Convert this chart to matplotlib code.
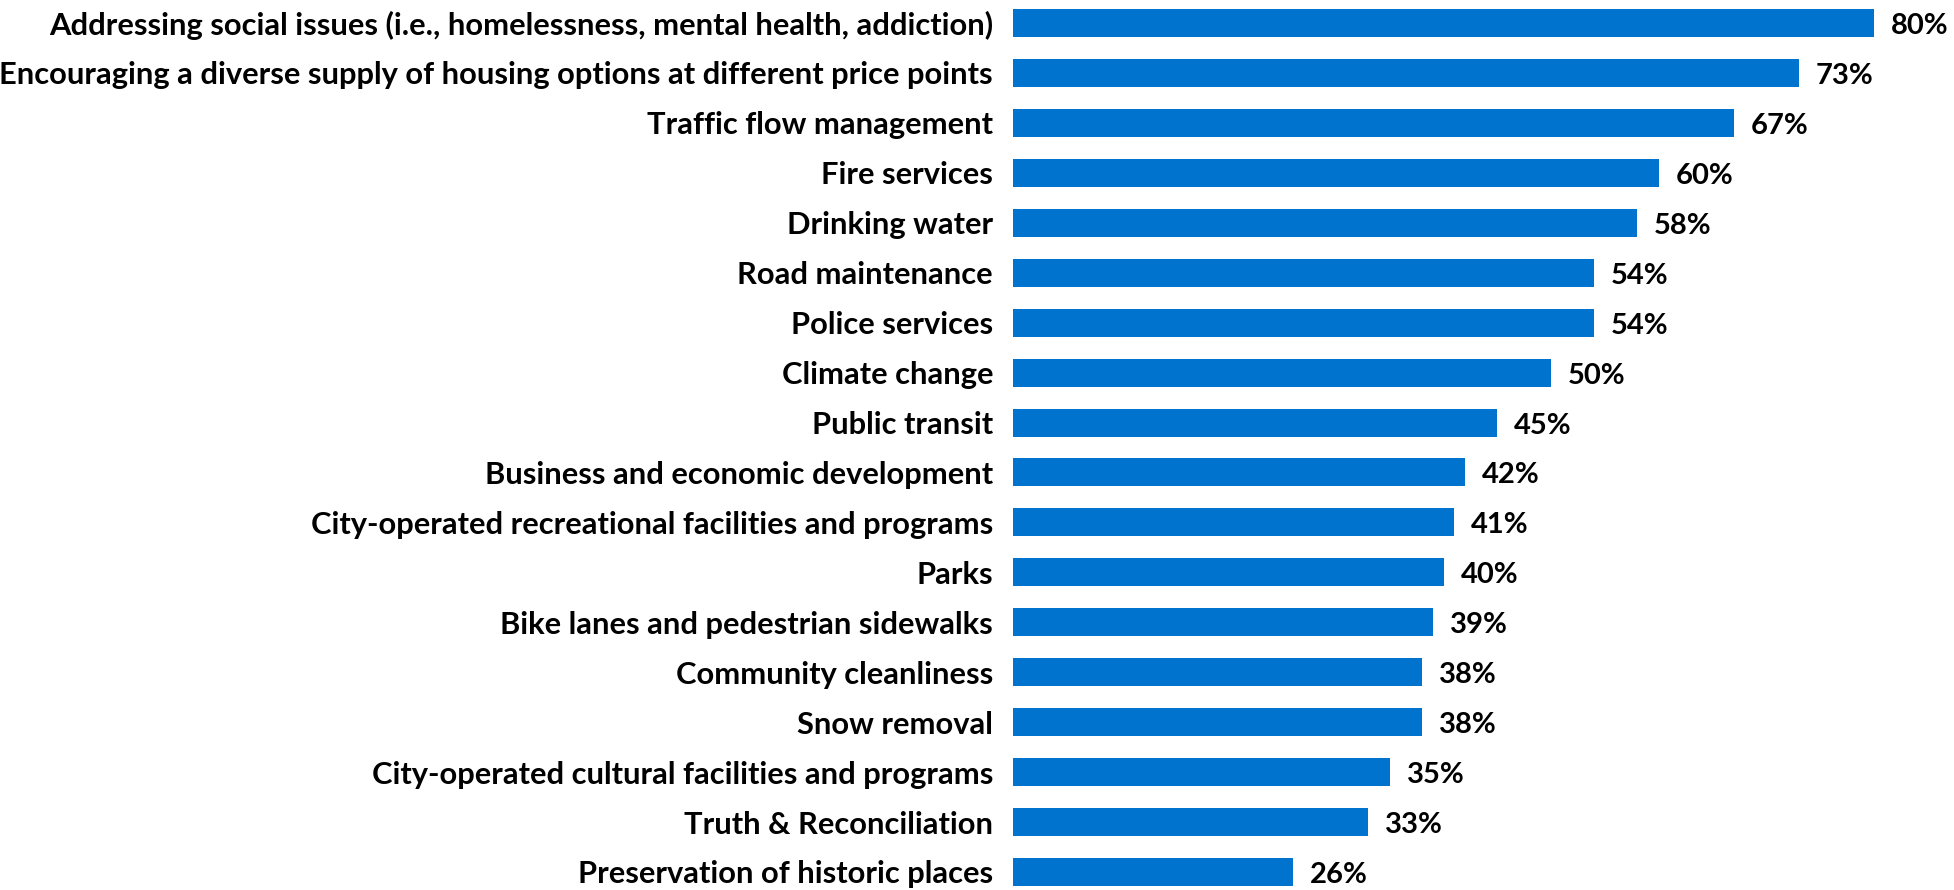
import matplotlib
matplotlib.use("Agg")
import matplotlib.pyplot as plt

categories = [
    "Addressing social issues (i.e., homelessness, mental health, addiction)",
    "Encouraging a diverse supply of housing options at different price points",
    "Traffic flow management",
    "Fire services",
    "Drinking water",
    "Road maintenance",
    "Police services",
    "Climate change",
    "Public transit",
    "Business and economic development",
    "City-operated recreational facilities and programs",
    "Parks",
    "Bike lanes and pedestrian sidewalks",
    "Community cleanliness",
    "Snow removal",
    "City-operated cultural facilities and programs",
    "Truth & Reconciliation",
    "Preservation of historic places",
]
values = [80, 73, 67, 60, 58, 54, 54, 50, 45, 42, 41, 40, 39, 38, 38, 35, 33, 26]

W, H = 1954, 890
fig = plt.figure(figsize=(W / 100, H / 100), dpi=100)

# axes placed in pixels: bar left at 1013, 80% ends at 1874, pitch ~50 px
pitch = 49.94
top_px = 23 - pitch / 2
bottom_px = top_px + pitch * len(categories)
ax = fig.add_axes([1013 / W, (H - bottom_px) / H, (1874 - 1013) / W, (bottom_px - top_px) / H])

ypos = list(range(len(categories)))
ax.barh(ypos, values, height=0.56, color="#0073CF")
ax.set_xlim(0, 80)
ax.set_ylim(len(categories) - 0.5, -0.5)

ax.set_yticks(ypos)
ax.set_yticklabels(categories, fontsize=22.2, fontweight="bold", family="Lato")
ax.tick_params(axis="y", length=0, pad=14.4)
ax.set_xticks([])
for s in ax.spines.values():
    s.set_visible(False)

for y, v in zip(ypos, values):
    ax.annotate(f"{v}%", (v, y), xytext=(17, -3), textcoords="offset pixels",
                va="center", ha="left", fontsize=21, fontweight="bold",
                family="Lato", clip_on=False)

fig.savefig("out.png", dpi=100)
